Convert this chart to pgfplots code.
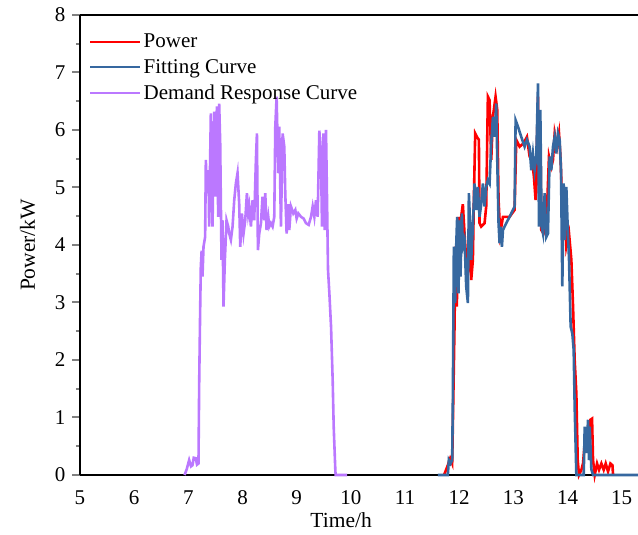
\documentclass[border=0pt]{standalone}
\usepackage{fontspec}
\setmainfont{Liberation Serif}
\usepackage{pgfplots}
\pgfplotsset{compat=1.18}
\definecolor{pw}{RGB}{255,0,0}
\definecolor{fc}{RGB}{54,104,160}
\definecolor{dr}{RGB}{187,120,255}
\begin{document}
\begin{tikzpicture}
\begin{axis}[
  width=558pt, height=460pt, scale only axis,
  xmin=5, xmax=15.3, ymin=0, ymax=8,
  axis x line*=box, axis y line*=left,
  axis line style={line width=2pt},
  xtick={5,6,...,15}, ytick={0,1,...,8},
  minor ytick={0.5,1.5,...,7.5},
  xtick style={draw=none},
  ytick style={line width=2pt},
  minor y tick style={line width=2pt},
  tick align=outside,
  major tick length=8pt, minor tick length=4pt,
  /pgf/number format/assume math mode=true,
  tick label style={font=\fontsize{21}{24}\selectfont},
  xticklabel style={yshift=-4pt},
  yticklabel style={xshift=-3pt},
  xlabel={Time/h}, ylabel={Power/kW},
  label style={font=\fontsize{21.5}{26}\selectfont},
  xlabel style={at={(axis description cs:0.468,0)}, anchor=north, yshift=-34pt},
  ylabel style={yshift=13pt},
  legend style={at={(axis description cs:0.016,0.963)}, anchor=north west, draw=none, fill=none,
    font=\fontsize{21}{25}\selectfont, row sep=6pt, inner sep=0pt},
  legend cell align=left,
  legend image code/.code={\draw[#1] (0pt,0pt) -- (50pt,0pt);},
  clip=false,
]
\addplot[pw, line width=2.6pt] coordinates {
(11.72,0) (11.790,0.17) (11.833,0.29) (11.870,0.20) (11.882,0.84) (11.913,2.58) (11.931,3.97) (11.956,2.93) (11.981,4.49) (12.005,3.97) (12.036,4.49) (12.067,4.71) (12.098,4.20) (12.129,3.74) (12.160,3.51) (12.190,4.32) (12.221,3.39) (12.252,3.74) (12.270,4.78) (12.295,5.94) (12.326,5.88) (12.363,5.83) (12.375,4.38) (12.406,4.32) (12.468,4.38) (12.498,4.67) (12.529,6.58) (12.560,6.52) (12.591,5.48) (12.622,6.23) (12.671,6.58) (12.702,6.35) (12.726,4.78) (12.757,4.20) (12.807,4.49) (12.930,4.49) (13.022,4.61) (13.053,5.83) (13.115,5.71) (13.188,5.77) (13.250,5.88) (13.299,5.54) (13.343,5.48) (13.379,5.19) (13.410,4.78) (13.454,6.58) (13.472,4.90) (13.497,6.06) (13.515,4.26) (13.558,4.20) (13.608,4.32) (13.657,5.54) (13.700,5.36) (13.731,5.48) (13.762,5.94) (13.805,5.71) (13.842,5.94) (13.872,5.48) (13.903,4.61) (13.934,4.78) (13.977,3.97) (14.027,4.20) (14.070,3.74) (14.101,2.93) (14.131,2.00) (14.162,1.42) (14.187,0.26) (14.211,0) (14.255,0.09) (14.285,0.20) (14.316,0.55) (14.347,0.72) (14.390,0.67) (14.421,0.96) (14.452,0.98) (14.470,0.26) (14.501,0) (14.544,0.20) (14.581,0.09) (14.624,0.20) (14.667,0.09) (14.704,0.20) (14.747,0.06) (14.791,0.20) (14.828,0.17) (14.840,0)
};
\addlegendentry{Power}
\addplot[fc, line width=2.6pt] coordinates {
(11.605,0) (11.790,0) (11.808,0.26) (11.84,0.2) (11.870,0.26) (11.882,1.30) (11.901,3.97) (11.925,2.99) (11.944,3.97) (11.962,4.49) (11.987,3.16) (12.005,4.43) (12.024,3.45) (12.049,4.55) (12.067,3.97) (12.098,4.09) (12.129,3.28) (12.160,2.99) (12.178,4.90) (12.203,4.32) (12.221,3.74) (12.252,4.32) (12.283,5.07) (12.314,4.61) (12.344,5.01) (12.375,4.49) (12.406,4.71) (12.437,5.07) (12.468,4.67) (12.498,5.01) (12.529,5.13) (12.560,5.07) (12.591,5.77) (12.622,6.23) (12.652,5.88) (12.683,6.46) (12.702,5.48) (12.726,4.38) (12.745,4.03) (12.763,4.32) (12.788,3.97) (12.807,4.26) (12.868,4.38) (12.930,4.49) (13.022,4.67) (13.041,6.17) (13.084,6.06) (13.145,5.88) (13.207,5.71) (13.250,5.83) (13.299,5.71) (13.330,5.30) (13.361,5.59) (13.392,5.30) (13.423,5.54) (13.454,6.81) (13.472,4.32) (13.497,6.35) (13.521,4.32) (13.546,4.20) (13.577,4.90) (13.608,4.14) (13.638,4.20) (13.669,5.54) (13.700,5.30) (13.731,5.71) (13.762,5.88) (13.792,5.59) (13.823,5.94) (13.854,5.83) (13.879,5.30) (13.903,3.28) (13.928,5.07) (13.946,4.09) (13.977,5.01) (14.002,4.32) (14.027,3.74) (14.057,2.58) (14.088,2.46) (14.113,2.17) (14.131,1.19) (14.162,0) (14.298,0) (14.316,0.84) (14.347,0.38) (14.378,0.96) (14.396,0.26) (14.409,0.84) (14.439,0.1) (14.470,0) (15.3,0)
};
\addlegendentry{Fitting Curve}
\addplot[dr, line width=2.6pt] coordinates {
(6.93,0) (6.97,0.1) (7.015,0.26) (7.05,0.15) (7.076,0.17) (7.10,0.3) (7.138,0.29) (7.16,0.18) (7.187,0.20) (7.200,1.59) (7.218,2.87) (7.230,3.62) (7.245,3.9) (7.261,3.45) (7.280,3.97) (7.310,4.14) (7.323,5.48) (7.341,4.90) (7.372,5.30) (7.384,4.32) (7.415,6.29) (7.446,4.32) (7.477,6.32) (7.508,4.84) (7.526,6.41) (7.551,4.49) (7.569,6.46) (7.588,5.77) (7.612,3.74) (7.631,4.43) (7.649,2.93) (7.674,3.74) (7.705,4.43) (7.736,4.32) (7.754,4.20) (7.785,4.09) (7.816,4.32) (7.847,4.78) (7.877,5.07) (7.908,5.25) (7.939,4.71) (7.958,3.97) (7.988,4.55) (8.019,4.20) (8.050,4.43) (8.081,4.90) (8.105,4.55) (8.124,4.67) (8.155,4.32) (8.186,4.78) (8.216,4.43) (8.247,5.48) (8.266,5.94) (8.284,3.91) (8.309,4.20) (8.340,4.38) (8.370,4.84) (8.401,4.43) (8.420,4.90) (8.444,4.26) (8.475,4.49) (8.494,4.32) (8.524,4.38) (8.555,4.32) (8.586,4.49) (8.605,6.06) (8.629,6.58) (8.660,5.25) (8.678,6.06) (8.709,4.32) (8.740,5.94) (8.771,5.71) (8.789,4.90) (8.814,4.20) (8.845,4.71) (8.863,4.26) (8.894,4.67) (8.937,4.55) (8.974,4.61) (8.999,4.46) (9.030,4.55) (9.079,4.49) (9.128,4.46) (9.171,4.38) (9.221,4.35) (9.264,4.49) (9.295,4.67) (9.326,4.49) (9.356,4.78) (9.387,4.49) (9.418,5.99) (9.449,5.48) (9.467,4.32) (9.492,5.94) (9.517,4.26) (9.541,6.00) (9.560,4.78) (9.578,3.57) (9.603,3.16) (9.634,2.58) (9.664,1.65) (9.683,0.84) (9.714,0.06) (9.72,0) (9.93,0)
};
\addlegendentry{Demand Response Curve}
\end{axis}
\pgfresetboundingbox
\path[use as bounding box] ([shift={(-80pt,-60pt)}]current axis.south west) rectangle ([shift={(558pt,475pt)}]current axis.south west);
\end{tikzpicture}
\end{document}
